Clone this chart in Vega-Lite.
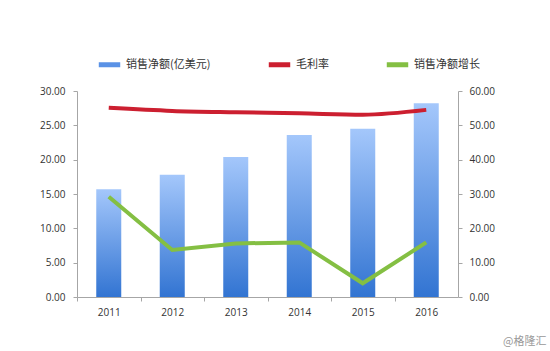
{
  "$schema": "https://vega.github.io/schema/vega-lite/v6.json",
  "width": 381,
  "height": 206,
  "autosize": {"type": "none"},
  "padding": {"left": 77, "top": 91, "right": 92, "bottom": 54},
  "background": "#ffffff",
  "title": {"text": "@格隆汇", "orient": "bottom", "anchor": "end", "offset": 19, "dx": 52, "fontSize": 11, "fontWeight": "normal", "color": "#999999", "font": "Noto Sans CJK SC"},
  "config": {
    "view": {"stroke": null},
    "font": "Open Sans",
    "axis": {
      "grid": false,
      "domainColor": "#a6a6a6",
      "tickColor": "#a6a6a6",
      "tickSize": 4,
      "labelColor": "#333333",
      "labelFontSize": 10,
      "labelFont": "Open Sans",
      "title": null
    }
  },
  "datasets": {
    "sales": [
      {"year": "2011", "sales": 15.7},
      {"year": "2012", "sales": 17.8},
      {"year": "2013", "sales": 20.4},
      {"year": "2014", "sales": 23.6},
      {"year": "2015", "sales": 24.5},
      {"year": "2016", "sales": 28.2}
    ],
    "margin": [
      {"year": "2011", "series": "毛利率", "value": 55.1},
      {"year": "2012", "series": "毛利率", "value": 54.2},
      {"year": "2013", "series": "毛利率", "value": 53.8},
      {"year": "2014", "series": "毛利率", "value": 53.5},
      {"year": "2015", "series": "毛利率", "value": 53.1},
      {"year": "2016", "series": "毛利率", "value": 54.5}
    ],
    "growth": [
      {"year": "2011", "series": "销售净额增长", "value": 29.2},
      {"year": "2012", "series": "销售净额增长", "value": 13.7},
      {"year": "2013", "series": "销售净额增长", "value": 15.6},
      {"year": "2014", "series": "销售净额增长", "value": 15.9},
      {"year": "2015", "series": "销售净额增长", "value": 4.0},
      {"year": "2016", "series": "销售净额增长", "value": 15.9}
    ]
  },
  "encoding": {
    "x": {
      "field": "year",
      "type": "nominal",
      "scale": {"paddingInner": 0, "paddingOuter": 0},
      "axis": {"labelAngle": 0, "tickOffset": -31.75, "labelOffset": 31.75, "labelPadding": 6, "labelFontSize": 10}
    }
  },
  "layer": [
    {
      "data": {"name": "sales"},
      "mark": {
        "type": "bar",
        "size": 25,
        "color": {
          "gradient": "linear",
          "x1": 0, "y1": 0, "x2": 0, "y2": 1,
          "stops": [
            {"offset": 0, "color": "#a4c7fb"},
            {"offset": 1, "color": "#3274d2"}
          ]
        }
      },
      "encoding": {
        "y": {
          "field": "sales",
          "type": "quantitative",
          "scale": {"domain": [0, 30]},
          "axis": {"values": [0, 5, 10, 15, 20, 25, 30], "format": ".2f", "labelPadding": 8}
        }
      }
    },
    {
      "encoding": {
        "y": {
          "field": "value",
          "type": "quantitative",
          "scale": {"domain": [0, 60]},
          "axis": {"orient": "right", "values": [0, 10, 20, 30, 40, 50, 60], "format": ".2f", "labelPadding": 7}
        },
        "color": {
          "field": "series",
          "type": "nominal",
          "scale": {
            "domain": ["销售净额(亿美元)", "毛利率", "销售净额增长"],
            "range": ["#5a92e6", "#cc1f30", "#84bf43"]
          },
          "legend": {
            "orient": "none",
            "legendX": 19,
            "legendY": -40,
            "direction": "horizontal",
            "title": null,
            "symbolType": "stroke",
            "symbolStrokeWidth": 5,
            "symbolSize": 460,
            "labelFont": "Noto Sans CJK SC",
            "labelFontSize": 11,
            "labelColor": "#333333",
            "labelOffset": 3,
            "columnPadding": 47
          }
        }
      },
      "layer": [
        {
          "data": {"name": "margin"},
          "mark": {"type": "line", "strokeWidth": 4, "interpolate": "monotone"}
        },
        {
          "data": {"name": "growth"},
          "mark": {"type": "line", "strokeWidth": 4}
        }
      ]
    }
  ],
  "resolve": {"scale": {"y": "independent"}}
}
